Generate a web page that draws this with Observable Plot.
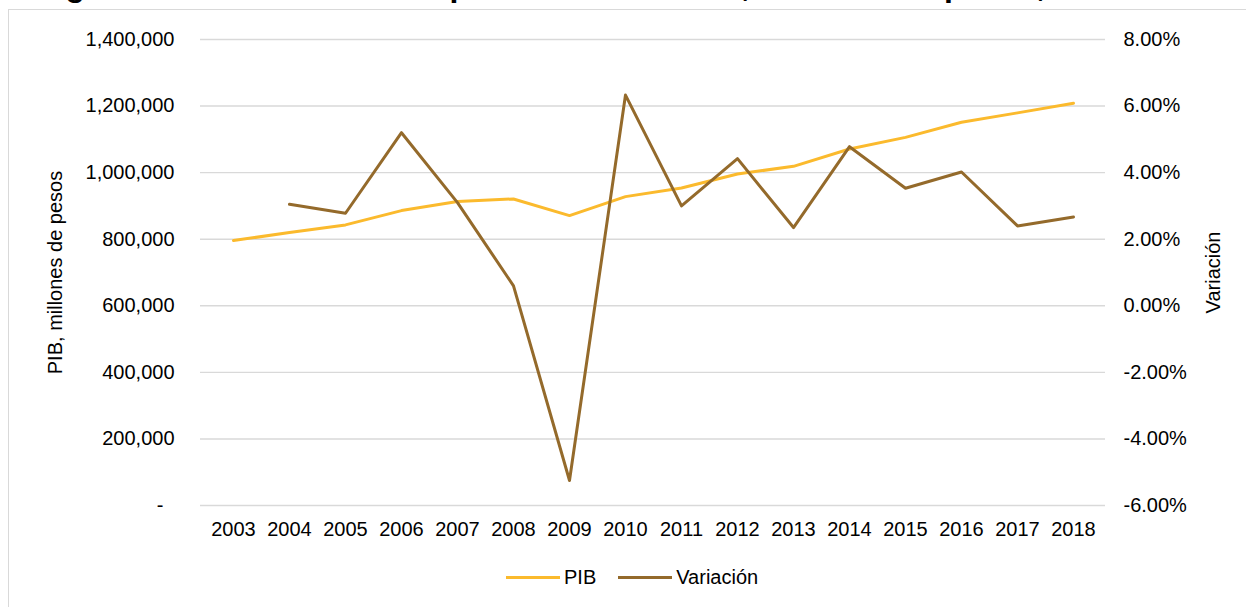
<!DOCTYPE html>
<html>
<head>
<meta charset="utf-8">
<script src="https://cdn.jsdelivr.net/npm/d3@7"></script>
<script src="https://cdn.jsdelivr.net/npm/@observablehq/plot@0.6"></script>
<style>
  body { margin: 0; background: #fff; }
  #wrap { position: relative; width: 1246px; height: 607px; overflow: hidden; font-family: "Liberation Sans", Arial, sans-serif; color: #000; }
  #title { position: absolute; left: 37px; top: -31px; font-size: 32px; line-height: 32px; font-weight: bold; white-space: nowrap; }
  #frame { position: absolute; left: 8px; top: 9px; width: 1400px; height: 800px; border: 1.5px solid #d9d9d9; box-sizing: border-box; }
  #chart { position: absolute; left: 0; top: 0; }
  #legend { position: absolute; left: 506px; top: 565px; display: flex; align-items: center; font-size: 20px; line-height: 24px; }
  .sw { display: inline-block; width: 54px; height: 3px; margin-right: 4px; }
  .item { display: flex; align-items: center; margin-right: 22px; }
</style>
</head>
<body>
<div id="wrap">
  <div id="title">Figura 12. PIB de Jalisco a precios constantes, millones de pesos, 2003 - 2018</div>
  <div id="frame"></div>
  <div id="chart"></div>
  <div id="legend"></div>
</div>
<script>
const years = ["2003","2004","2005","2006","2007","2008","2009","2010","2011","2012","2013","2014","2015","2016","2017","2018"];
const pib = [796000, 820000, 843000, 886000, 913000, 921000, 871000, 928000, 954000, 996000, 1019000, 1071000, 1106000, 1151500, 1179600, 1208600];
const variacion = [null, 3.05, 2.78, 5.20, 3.10, 0.60, -5.25, 6.33, 3.00, 4.42, 2.35, 4.78, 3.53, 4.02, 2.40, 2.67];
const leftTicks = [0, 200000, 400000, 600000, 800000, 1000000, 1200000, 1400000];
const rightTicks = [-6, -4, -2, 0, 2, 4, 6, 8];
const seriesNames = ["PIB", "Variación"];
const seriesColors = ["#FBBA2D", "#946A2B"];
const leftTitle = "PIB, millones de pesos";
const rightTitle = "Variación";

const rows = years.map((y, i) => ({year: y, pib: pib[i], v: variacion[i]}));
const vScale = d3.scaleLinear().domain([-6, 8]).range([0, 1400000]);
const fmt = d3.format(",");

const chart = Plot.plot({
  width: 1246,
  height: 550,
  marginLeft: 200,
  marginRight: 141,
  marginTop: 39,
  marginBottom: 45,
  style: {fontFamily: "'Liberation Sans', Arial, sans-serif", fontSize: "20px", color: "#000", background: "transparent", overflow: "visible"},
  x: {type: "point", domain: years, padding: 0.5},
  y: {domain: [0, 1400000]},
  marks: [
    Plot.gridY(leftTicks, {stroke: "#d9d9d9", strokeOpacity: 1, strokeWidth: 1.4}),
    Plot.axisX({tickSize: 0, tickPadding: 16, label: null}),
    Plot.axisY(leftTicks, {anchor: "left", tickSize: 0, tickPadding: 26, label: null,
      tickFormat: d => d === 0 ? "-\u00a0\u00a0" : fmt(d)}),
    Plot.axisY(rightTicks.map(t => vScale(t)), {anchor: "right", tickSize: 0, tickPadding: 18, label: null,
      tickFormat: d => vScale.invert(d).toFixed(2) + "%"}),
    Plot.line(rows, {x: "year", y: "pib", stroke: seriesColors[0], strokeWidth: 3, strokeLinecap: "round", strokeLinejoin: "round"}),
    Plot.line(rows, {x: "year", y: d => d.v == null ? NaN : vScale(d.v), stroke: seriesColors[1], strokeWidth: 3, strokeLinecap: "round", strokeLinejoin: "round"}),
    Plot.text([leftTitle], {frameAnchor: "left", dx: -145, rotate: -90, fontSize: 20, fill: "#000", textAnchor: "middle"}),
    Plot.text([rightTitle], {frameAnchor: "right", dx: 108, rotate: -90, fontSize: 20, fill: "#000", textAnchor: "middle"})
  ]
});
document.getElementById("chart").appendChild(chart);

const legend = document.getElementById("legend");
seriesNames.forEach((n, i) => {
  const it = document.createElement("div");
  it.className = "item";
  const sw = document.createElement("span");
  sw.className = "sw";
  sw.style.background = seriesColors[i];
  const tx = document.createElement("span");
  tx.textContent = n;
  it.appendChild(sw);
  it.appendChild(tx);
  legend.appendChild(it);
});
</script>
</body>
</html>
